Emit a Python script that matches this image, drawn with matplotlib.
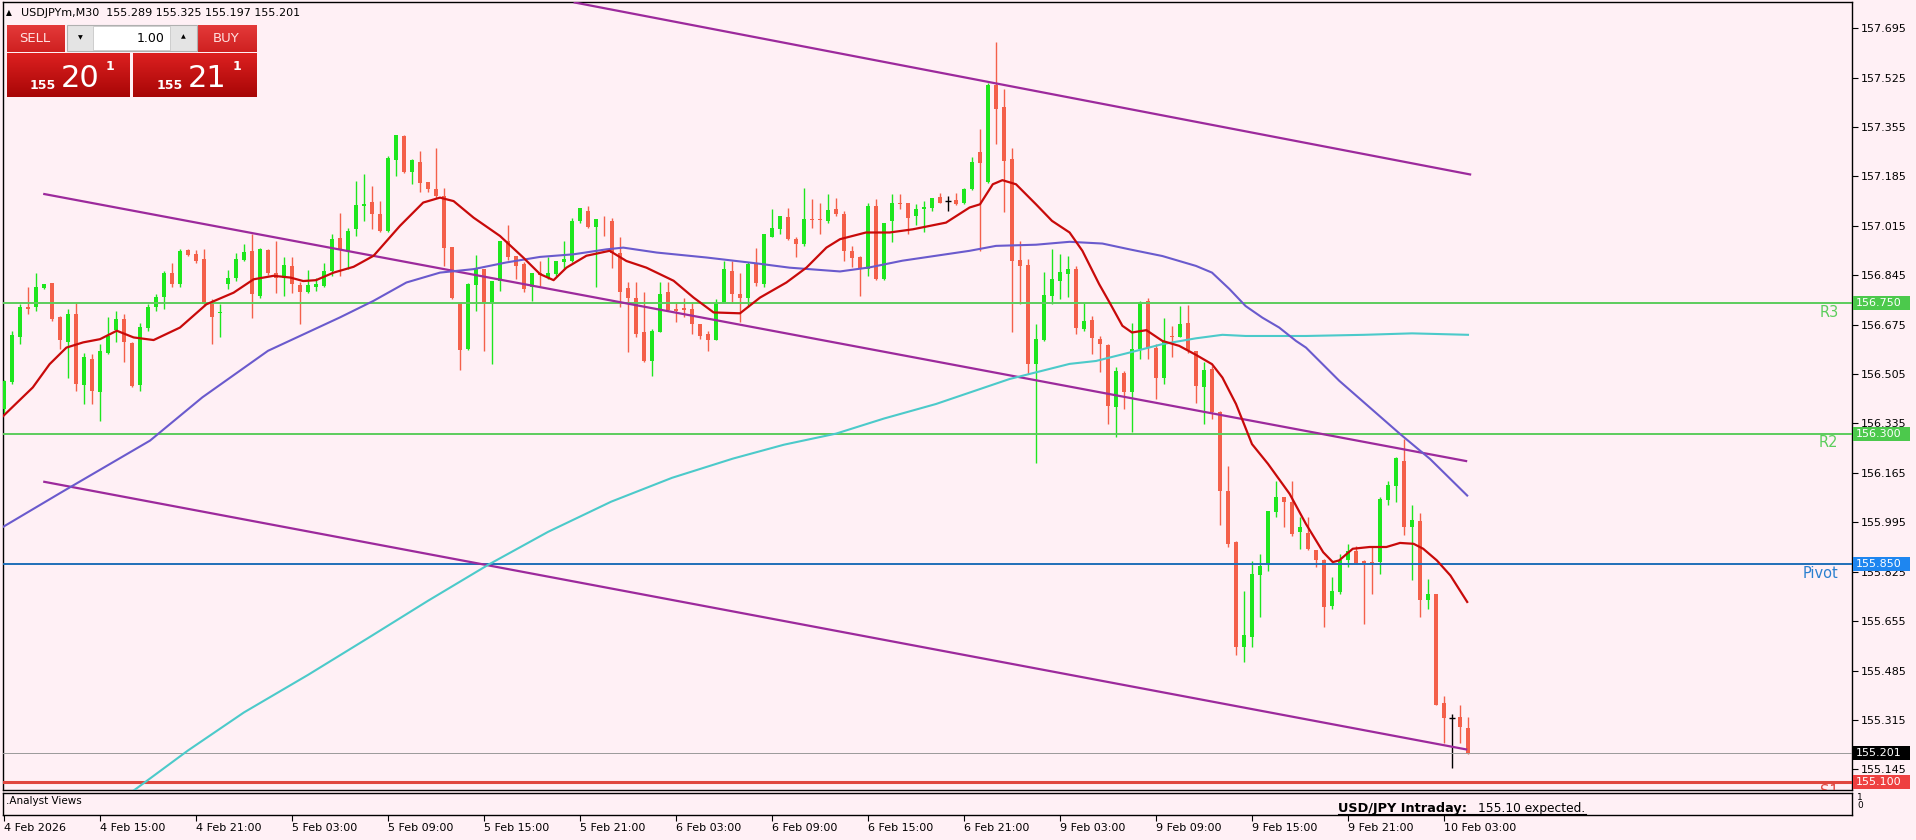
import matplotlib
matplotlib.use("Agg")
import matplotlib.pyplot as plt
import matplotlib.transforms as mtransforms
import matplotlib.colors as mcolors
from matplotlib.patches import Rectangle
import numpy as np

# ---------------- data ----------------
symbol_header = "USDJPYm,M30  155.289 155.325 155.197 155.201"

time_labels = ["4 Feb 2026", "4 Feb 15:00", "4 Feb 21:00", "5 Feb 03:00", "5 Feb 09:00",
               "5 Feb 15:00", "5 Feb 21:00", "6 Feb 03:00", "6 Feb 09:00", "6 Feb 15:00",
               "6 Feb 21:00", "9 Feb 03:00", "9 Feb 09:00", "9 Feb 15:00", "9 Feb 21:00",
               "10 Feb 03:00"]
label_bars = [0, 12, 24, 36, 48, 60, 72, 84, 96, 108, 120, 132, 144, 156, 168, 180]

opens = [156.385, 156.476, 156.633, 156.736, 156.734, 156.800, 156.819, 156.700, 156.614, 156.711,
         156.468, 156.556, 156.442, 156.579, 156.656, 156.694, 156.611, 156.468, 156.665, 156.736,
         156.771, 156.853, 156.814, 156.931, 156.919, 156.900, 156.745, 156.714, 156.816, 156.835,
         156.899, 156.929, 156.774, 156.932, 156.851, 156.837, 156.877, 156.812, 156.788, 156.805,
         156.808, 156.860, 156.972, 156.929, 157.003, 157.082, 157.098, 157.055, 156.997, 157.240,
         157.324, 157.201, 157.234, 157.167, 157.141, 157.118, 156.942, 156.751, 156.591, 156.812,
         156.866, 156.749, 156.826, 156.963, 156.912, 156.883, 156.803, 156.851, 156.837, 156.849,
         156.889, 156.894, 157.030, 157.066, 157.011, 157.026, 157.030, 156.923, 156.801, 156.768,
         156.648, 156.551, 156.648, 156.786, 156.728, 156.732, 156.728, 156.677, 156.642, 156.622,
         156.751, 156.860, 156.780, 156.768, 156.883, 156.814, 156.977, 157.003, 157.046, 156.969,
         156.952, 157.038, 157.038, 157.030, 157.072, 157.057, 156.927, 156.906, 156.866, 157.084,
         156.832, 157.032, 157.095, 157.092, 157.049, 157.072, 157.078, 157.114, 157.100, 157.103,
         157.092, 157.141, 157.270, 157.167, 157.501, 157.424, 157.244, 156.897, 156.881, 156.540,
         156.622, 156.774, 156.826, 156.849, 156.866, 156.660, 156.691, 156.626, 156.605, 156.390,
         156.510, 156.442, 156.591, 156.757, 156.596, 156.493, 156.636, 156.633, 156.679, 156.583,
         156.461, 156.524, 156.373, 156.104, 155.926, 155.566, 155.600, 155.812, 155.852, 156.029,
         156.081, 156.064, 155.961, 155.958, 155.900, 155.864, 155.706, 155.755, 155.864, 155.896,
         155.861, 155.858, 155.858, 156.072, 156.121, 156.207, 155.978, 156.001, 155.726, 155.747,
         155.374, 155.323, 155.326, 155.289]
highs = [156.485, 156.654, 156.745, 156.803, 156.851, 156.816, 156.819, 156.705, 156.728, 156.751,
         156.579, 156.574, 156.608, 156.700, 156.722, 156.711, 156.614, 156.682, 156.745, 156.780,
         156.860, 156.888, 156.934, 156.934, 156.931, 156.934, 156.763, 156.745, 156.862, 156.923,
         156.951, 156.986, 156.940, 156.934, 156.963, 156.908, 156.906, 156.820, 156.862, 156.837,
         156.888, 156.986, 157.060, 157.009, 157.169, 157.192, 157.152, 157.100, 157.255, 157.327,
         157.327, 157.244, 157.272, 157.167, 157.284, 157.146, 156.942, 156.751, 156.817, 156.915,
         156.866, 156.826, 156.963, 157.018, 156.912, 156.889, 156.854, 156.894, 156.906, 156.894,
         156.963, 157.043, 157.075, 157.083, 157.038, 157.049, 157.043, 156.975, 156.820, 156.820,
         156.786, 156.660, 156.820, 156.820, 156.751, 156.768, 156.751, 156.677, 156.654, 156.763,
         156.894, 156.894, 156.854, 156.889, 156.940, 156.986, 157.072, 157.049, 157.078, 156.975,
         157.146, 157.106, 157.095, 157.123, 157.112, 157.066, 156.946, 156.912, 157.095, 157.106,
         157.026, 157.124, 157.126, 157.095, 157.089, 157.101, 157.112, 157.129, 157.118, 157.129,
         157.146, 157.252, 157.347, 157.507, 157.648, 157.484, 157.284, 156.963, 156.900, 156.677,
         156.855, 156.935, 156.917, 156.912, 156.877, 156.751, 156.706, 156.637, 156.608, 156.528,
         156.516, 156.682, 156.757, 156.768, 156.608, 156.697, 156.671, 156.739, 156.743, 156.583,
         156.545, 156.533, 156.379, 156.190, 155.932, 155.760, 155.863, 155.886, 156.035, 156.136,
         156.081, 156.136, 156.013, 156.013, 155.900, 155.869, 155.806, 155.887, 155.919, 155.915,
         155.864, 155.915, 156.081, 156.138, 156.221, 156.282, 156.056, 156.026, 155.801, 155.749,
         155.397, 155.337, 155.366, 155.325]
lows = [156.370, 156.471, 156.608, 156.711, 156.722, 156.797, 156.688, 156.591, 156.493, 156.448,
        156.402, 156.402, 156.345, 156.574, 156.614, 156.545, 156.461, 156.448, 156.654, 156.722,
        156.728, 156.803, 156.803, 156.912, 156.888, 156.740, 156.610, 156.633, 156.797, 156.825,
        156.894, 156.697, 156.768, 156.846, 156.785, 156.774, 156.785, 156.677, 156.785, 156.791,
        156.803, 156.843, 156.843, 156.866, 156.980, 157.032, 157.003, 156.994, 156.995, 157.186,
        157.198, 157.158, 157.133, 157.133, 157.112, 156.877, 156.763, 156.519, 156.588, 156.723,
        156.585, 156.539, 156.791, 156.897, 156.831, 156.789, 156.757, 156.809, 156.831, 156.843,
        156.866, 156.889, 157.026, 157.009, 156.803, 156.980, 156.871, 156.734, 156.580, 156.631,
        156.545, 156.499, 156.648, 156.723, 156.683, 156.700, 156.642, 156.625, 156.585, 156.622,
        156.748, 156.751, 156.683, 156.734, 156.809, 156.803, 156.975, 156.986, 156.965, 156.906,
        156.946, 157.007, 156.988, 157.026, 157.049, 156.895, 156.872, 156.774, 156.843, 156.828,
        156.828, 156.958, 157.072, 156.986, 157.018, 156.995, 157.066, 157.092, 157.066, 157.087,
        157.089, 157.137, 156.929, 157.164, 157.295, 157.061, 156.648, 156.746, 156.505, 156.200,
        156.620, 156.746, 156.763, 156.769, 156.643, 156.654, 156.574, 156.511, 156.333, 156.287,
        156.384, 156.304, 156.556, 156.556, 156.419, 156.470, 156.562, 156.631, 156.579, 156.407,
        156.333, 156.350, 155.984, 155.909, 155.537, 155.514, 155.566, 155.669, 155.829, 156.012,
        155.978, 155.949, 155.904, 155.898, 155.841, 155.635, 155.698, 155.749, 155.841, 155.852,
        155.646, 155.749, 155.818, 156.053, 156.064, 155.950, 155.795, 155.669, 155.698, 155.366,
        155.234, 155.148, 155.234, 155.197]
closes = [156.482, 156.640, 156.736, 156.728, 156.803, 156.814, 156.696, 156.622, 156.713, 156.471,
          156.562, 156.445, 156.585, 156.637, 156.694, 156.614, 156.465, 156.667, 156.734, 156.771,
          156.853, 156.814, 156.929, 156.915, 156.894, 156.745, 156.702, 156.719, 156.835, 156.900,
          156.926, 156.780, 156.934, 156.851, 156.837, 156.879, 156.814, 156.788, 156.811, 156.814,
          156.860, 156.969, 156.931, 156.997, 157.087, 157.091, 157.055, 156.997, 157.249, 157.327,
          157.201, 157.240, 157.163, 157.141, 157.118, 156.940, 156.766, 156.588, 156.814, 156.866,
          156.751, 156.826, 156.963, 156.908, 156.877, 156.797, 156.854, 156.846, 156.851, 156.894,
          156.900, 157.032, 157.075, 157.011, 157.038, 157.023, 156.923, 156.789, 156.768, 156.642,
          156.551, 156.654, 156.782, 156.725, 156.723, 156.725, 156.677, 156.637, 156.622, 156.751,
          156.866, 156.780, 156.768, 156.885, 156.817, 156.986, 157.007, 157.049, 156.969, 156.952,
          157.038, 157.034, 157.034, 157.068, 157.055, 156.929, 156.904, 156.866, 157.084, 156.832,
          157.026, 157.095, 157.089, 157.043, 157.072, 157.080, 157.110, 157.095, 157.100, 157.089,
          157.141, 157.236, 157.232, 157.501, 157.416, 157.238, 156.895, 156.877, 156.540, 156.626,
          156.778, 156.832, 156.855, 156.866, 156.663, 156.688, 156.629, 156.608, 156.396, 156.516,
          156.442, 156.591, 156.751, 156.596, 156.493, 156.619, 156.631, 156.676, 156.587, 156.465,
          156.518, 156.373, 156.104, 155.921, 155.566, 155.606, 155.818, 155.846, 156.035, 156.083,
          156.064, 155.955, 155.978, 155.904, 155.864, 155.703, 155.758, 155.864, 155.896, 155.855,
          155.855, 155.855, 156.076, 156.125, 156.216, 155.978, 156.003, 155.729, 155.747, 155.366,
          155.320, 155.323, 155.291, 155.201]

# moving averages (bar position, price)
ma_red_x = [-0.5, 3.6, 5.7, 7.8, 9.9, 12, 14.1, 16.2, 18.7, 22, 25.3, 28.7, 31.2, 33.7, 35.8, 37.4,
            39, 41.2, 43.7, 46.2, 49.5, 52.4, 54.5, 56.2, 58.7, 62, 64.9, 67, 68.7, 70.3, 72.8,
            75.7, 77.8, 80.3, 83.7, 86.2, 88.7, 92, 94.5, 97.8, 100.3, 102.8, 104.5, 107.75,
            110.7, 113.6, 117.75, 120.7, 122, 123.6, 124.8, 126.5, 129, 131, 133.2, 134.8, 136.9,
            138.2, 139.8, 141, 142.8, 144.8, 146.9, 149, 151, 152.3, 154, 156, 158, 160.7, 162.75,
            164.9, 166.1, 166.9, 168.6, 170.7, 172.8, 174.5, 176.2, 177.4, 179.1, 180.8, 182.9]
ma_red_y = [156.350, 156.459, 156.539, 156.596, 156.614, 156.625, 156.654, 156.631, 156.622,
            156.665, 156.745, 156.785, 156.831, 156.843, 156.837, 156.825, 156.828, 156.854,
            156.874, 156.912, 157.015, 157.095, 157.112, 157.100, 157.043, 156.980, 156.906,
            156.849, 156.828, 156.871, 156.912, 156.929, 156.894, 156.871, 156.826, 156.768,
            156.717, 156.714, 156.768, 156.820, 156.871, 156.940, 156.969, 156.992, 156.992,
            157.003, 157.026, 157.078, 157.089, 157.158, 157.172, 157.158, 157.089, 157.032,
            156.992, 156.929, 156.814, 156.751, 156.671, 156.648, 156.656, 156.619, 156.602,
            156.571, 156.539, 156.493, 156.402, 156.264, 156.196, 156.093, 155.989, 155.892,
            155.858, 155.864, 155.904, 155.910, 155.910, 155.924, 155.921, 155.904, 155.864,
            155.812, 155.721]
ma_blue_x = [-0.5, 7.1, 18.25, 24.8, 33, 42, 46.2, 50.3, 54.5, 58.7, 62.8, 67, 71.2, 75.3, 77.4,
             81.6, 87.8, 94, 98.2, 104.5, 108.2, 112.3, 116.5, 120.7, 124, 129, 133.2, 137.3,
             140.7, 144.8, 149, 151, 153.2, 155.2, 157.3, 159.4, 161.5, 162.75, 166.9, 174.5,
             178.25, 182.9]
ma_blue_y = [155.973, 156.097, 156.276, 156.425, 156.585, 156.700, 156.757, 156.820, 156.854,
             156.866, 156.889, 156.908, 156.917, 156.934, 156.940, 156.923, 156.906, 156.886,
             156.871, 156.858, 156.872, 156.895, 156.912, 156.929, 156.946, 156.950, 156.960,
             156.954, 156.934, 156.911, 156.877, 156.854, 156.797, 156.739, 156.699, 156.665,
             156.619, 156.596, 156.482, 156.299, 156.213, 156.087]
ma_cyan_x = [10, 16.6, 23, 30, 38, 45.4, 53, 60.6, 68, 75.9, 83.5, 91.1, 97.5, 104, 110, 116.5,
             125.7, 133.2, 136.5, 140.7, 144.8, 149, 152.3, 155.2, 162.75, 170, 176, 183]
ma_cyan_y = [154.950, 155.080, 155.210, 155.341, 155.470, 155.595, 155.725, 155.850, 155.962,
             156.066, 156.148, 156.214, 156.262, 156.300, 156.352, 156.402, 156.488, 156.540,
             156.550, 156.579, 156.608, 156.628, 156.640, 156.636, 156.636, 156.640, 156.645,
             156.640]

# channel trend lines: (bar0, price0, bar1, price1)
trend_upper = (71.2, 157.784, 183.4, 157.191)
trend_middle = (4.9, 157.125, 182.9, 156.205)
trend_lower = (4.9, 156.135, 182.9, 155.213)

levels = {"R3": 156.750, "R2": 156.300, "Pivot": 155.850, "S1": 155.100}
last_price = 155.201
y_ticks = [157.695, 157.525, 157.355, 157.185, 157.015, 156.845, 156.675, 156.505, 156.335,
           156.165, 155.995, 155.825, 155.655, 155.485, 155.315, 155.145]

# ---------------- styling ----------------
W, H = 1916, 840
BG = "#fff0f5"
GREEN = "#1ee61e"
RED = "#f4604a"
C_RLINE = "#5ccd5c"
C_PIVOT = "#1f6fb8"
C_S1 = "#e0463e"
C_TREND = "#9c2a9c"

fig = plt.figure(figsize=(W / 100, H / 100), dpi=100)
fig.patch.set_facecolor(BG)


def box(l, t, r, b):
    return [l / W, 1 - b / H, (r - l) / W, (b - t) / H]


ax = fig.add_axes(box(3, 2, 1852, 790))
ax.set_facecolor(BG)
XMIN, XMAX = -0.125, 231
ax.set_xlim(XMIN, XMAX)
ax.set_ylim(155.074, 157.785)

x = np.arange(len(opens))
o, h, l, c = (np.array(v) for v in (opens, highs, lows, closes))
up = c > o
dn = c < o
dj = ~(up | dn)
cols = np.where(up, GREEN, np.where(dn, RED, "black"))
ax.vlines(x, l, h, colors=cols, lw=1.0, zorder=3)
nb = ~dj
ax.bar(x[nb], np.abs(c - o)[nb], bottom=np.minimum(o, c)[nb], width=0.62,
       color=cols[nb], linewidth=0, zorder=4)
ax.hlines(o[dj], x[dj] - 0.35, x[dj] + 0.35, colors="black", lw=1.0, zorder=4)

# horizontal levels
ax.axhline(levels["R3"], color=C_RLINE, lw=1.4, zorder=5)
ax.axhline(levels["R2"], color=C_RLINE, lw=1.4, zorder=5)
ax.axhline(levels["Pivot"], color=C_PIVOT, lw=1.4, zorder=5)
ax.axhline(levels["S1"], color=C_S1, lw=2.2, zorder=5)
ax.axhline(last_price, color="#9a9a9a", lw=0.7, zorder=5)

# trend channel
for t in (trend_upper, trend_middle, trend_lower):
    ax.plot([t[0], t[2]], [t[1], t[3]], color=C_TREND, lw=1.6, zorder=6, solid_capstyle="butt")

# moving averages
ax.plot(ma_cyan_x, ma_cyan_y, color="#4ccaca", lw=1.5, zorder=6)
ax.plot(ma_blue_x, ma_blue_y, color="#6a5acd", lw=1.5, zorder=6)
ax.plot(ma_red_x, ma_red_y, color="#c80a0a", lw=1.6, zorder=7)

# level texts
lbl_x = 229.3
ax.text(lbl_x, levels["R3"] - 0.006, "R3", ha="right", va="top", fontsize=10.5, color=C_RLINE, zorder=8)
ax.text(lbl_x, levels["R2"] - 0.006, "R2", ha="right", va="top", fontsize=10.5, color=C_RLINE, zorder=8)
ax.text(lbl_x, levels["Pivot"] - 0.006, "Pivot", ha="right", va="top", fontsize=10.5, color="#2a80d0", zorder=8)
ax.text(lbl_x, levels["S1"] - 0.006, "S1", ha="right", va="top", fontsize=10.5, color=C_S1, zorder=8, clip_on=True)

# axes styling
ax.set_xticks([])
ax.yaxis.tick_right()
ax.set_yticks(y_ticks)
ax.set_yticklabels([f"{v:.3f}" for v in y_ticks])
ax.tick_params(axis="y", direction="out", length=4, width=0.8, pad=2, labelsize=8, colors="black")
for s in ax.spines.values():
    s.set_color("black")
    s.set_linewidth(1.0)

# right price boxes
trans = mtransforms.blended_transform_factory(ax.transAxes, ax.transData)
bx0 = (1853 - 3) / 1849
bw = 57 / 1849
bh = 14 / 290.6
for val, col in ((levels["R3"], "#4cc94c"), (levels["R2"], "#4cc94c"),
                 (levels["Pivot"], "#1e86f0"), (last_price, "black"), (levels["S1"], "#ee4040")):
    ax.add_patch(Rectangle((bx0, val - bh / 2), bw, bh, transform=trans, facecolor=col,
                           edgecolor="none", clip_on=False, zorder=20))
    ax.text(bx0 + 3 / 1849, val, f"{val:.3f}", transform=trans, color="white", fontsize=8,
            va="center", ha="left", zorder=21, clip_on=False)

# indicator sub window
ax2 = fig.add_axes(box(3, 793, 1852, 815))
ax2.set_facecolor(BG)
ax2.set_xlim(XMIN, XMAX)
ax2.set_ylim(0, 1)
ax2.set_yticks([])
ax2.set_xticks(label_bars)
ax2.set_xticklabels(time_labels, ha="left", fontsize=8)
ax2.tick_params(axis="x", direction="out", length=4, width=0.8, pad=2, colors="black")
for s in ax2.spines.values():
    s.set_color("black")
    s.set_linewidth(1.0)

# overlay in pixel coordinates for terminal widgets / texts
ov = fig.add_axes([0, 0, 1, 1])
ov.set_autoscale_on(False)
ov.set_xlim(0, W)
ov.set_ylim(H, 0)
ov.axis("off")
ov.patch.set_alpha(0)

ov.text(6, 801, ".Analyst Views", fontsize=7.5, va="center", ha="left")
ov.text(1338, 812, "USD/JPY Intraday:", fontsize=9.3, fontweight="bold", va="baseline", ha="left")
ov.text(1478, 812, "155.10 expected.", fontsize=8.8, va="baseline", ha="left")
ov.plot([1338, 1586], [813.5, 813.5], color="black", lw=0.8)
ov.text(1857, 797, "1", fontsize=6.5, va="center", ha="left")
ov.text(1857, 806, "0", fontsize=6.5, va="center", ha="left")

ov.text(6, 13, "\u25B2", fontsize=5.5, va="center", ha="left")
ov.text(21, 13, symbol_header, fontsize=8, va="center", ha="left")


def grad(l, t, r, b, c1, c2):
    a = np.array(mcolors.to_rgb(c1))
    z = np.array(mcolors.to_rgb(c2))
    g = np.linspace(0, 1, 60)[:, None, None]
    img = a * (1 - g) + z * g
    ov.imshow(img, extent=(l, r, b, t), aspect="auto", zorder=5, interpolation="bilinear")


grad(7, 25, 65, 52, "#e43a3a", "#cf2020")
grad(198, 25, 257, 52, "#e43a3a", "#cf2020")
grad(7, 53, 130, 97, "#dc2020", "#a80606")
grad(133, 53, 257, 97, "#dc2020", "#a80606")
ov.add_patch(Rectangle((67, 25), 130, 26, facecolor="#e4e4e4", edgecolor="#b0b0b0", lw=0.8, zorder=5))
ov.add_patch(Rectangle((93, 26), 77, 24, facecolor="white", edgecolor="#c8c8c8", lw=0.6, zorder=6))
ov.text(80, 38, "\u25BC", fontsize=4.5, ha="center", va="center", zorder=7)
ov.text(183, 37, "\u25B2", fontsize=4.5, ha="center", va="center", zorder=7)
ov.text(165, 38, "1.00", fontsize=9, ha="right", va="center", zorder=7)
ov.text(35, 39, "SELL", fontsize=9.5, ha="center", va="center", color="#ffe0e0", zorder=7)
ov.text(226, 39, "BUY", fontsize=9.5, ha="center", va="center", color="#ffe0e0", zorder=7)
for x0, big in ((30, "20"), (157, "21")):
    ov.text(x0, 89, "155", fontsize=9, fontweight="bold", color="white", ha="left", va="baseline", zorder=7)
    ov.text(x0 + 31, 87, big, fontsize=22, color="white", ha="left", va="baseline", zorder=7)
    ov.text(x0 + 76, 66, "1", fontsize=9, fontweight="bold", color="white", ha="left", va="center", zorder=7)

fig.savefig("out.png", dpi=100, facecolor=BG)
